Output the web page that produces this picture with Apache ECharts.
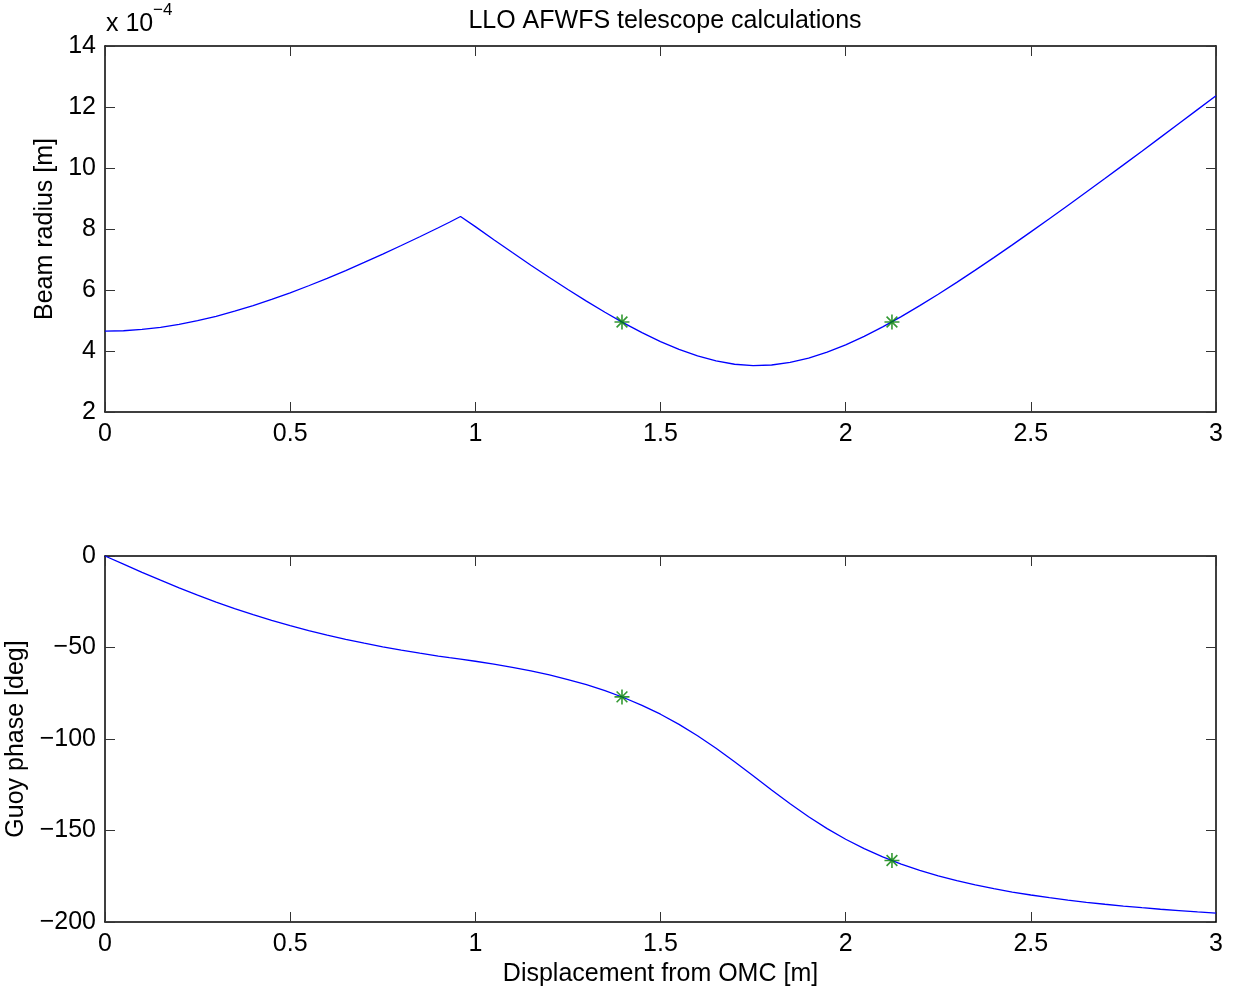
<!DOCTYPE html>
<html>
<head>
<meta charset="utf-8">
<script src="https://cdn.jsdelivr.net/npm/echarts@6/dist/echarts.min.js"></script>
<style>html,body{margin:0;padding:0;background:#fff}#c{width:1236px;height:995px}</style>
</head>
<body>
<div id="c"></div>
<script>
// Displacement from OMC [m]
const displacement = [0,0.05,0.1,0.15,0.2,0.25,0.3,0.35,0.4,0.45,0.5,0.55,0.6,0.65,0.7,0.75,0.8,0.85,0.9,0.93,0.96,1.0,1.05,1.1,1.15,1.2,1.25,1.3,1.35,1.4,1.45,1.5,1.55,1.6,1.65,1.7,1.75,1.8,1.85,1.9,1.95,2.0,2.05,2.1,2.15,2.2,2.25,2.3,2.35,2.4,2.45,2.5,2.55,2.6,2.65,2.7,2.75,2.8,2.85,2.9,2.95,3.0];
// Beam radius in units of 1e-4 m
const beamRadius = [4.65,4.664,4.707,4.777,4.873,4.994,5.138,5.304,5.488,5.690,5.908,6.139,6.383,6.638,6.903,7.177,7.458,7.746,8.041,8.220,8.41,8.077,7.649,7.228,6.814,6.410,6.016,5.635,5.270,4.924,4.603,4.310,4.053,3.838,3.674,3.566,3.521,3.541,3.624,3.766,3.961,4.202,4.482,4.792,5.129,5.487,5.862,6.251,6.651,7.062,7.480,7.905,8.336,8.772,9.212,9.656,10.103,10.552,11.004,11.458,11.914,12.372];
// Gouy phase [deg]
const gouyPhase = [0,-4.48,-8.91,-13.23,-17.41,-21.40,-25.18,-28.75,-32.09,-35.19,-38.09,-40.76,-43.24,-45.53,-47.65,-49.62,-51.43,-53.11,-54.67,-55.56,-56.39,-57.52,-59.09,-60.84,-62.79,-65.00,-67.50,-70.35,-73.60,-77.32,-81.58,-86.45,-91.98,-98.19,-105.05,-112.43,-120.13,-127.89,-135.43,-142.52,-149.00,-154.80,-159.93,-164.42,-168.35,-171.78,-174.78,-177.42,-179.74,-181.79,-183.62,-185.25,-186.72,-188.03,-189.22,-190.31,-191.30,-192.20,-193.04,-193.80,-194.51,-195.16];
// Marked positions
const markerX = [1.396, 2.125];
const markerRadius = [4.95, 4.95];
const markerPhase = [-77.0, -166.4];
// Ticks
const xTicks = [0,0.5,1,1.5,2,2.5,3];
const radiusTicks = [2,4,6,8,10,12,14];
const phaseTicks = [-200,-150,-100,-50,0];

const FONT = '"Liberation Sans", Arial, Helvetica, sans-serif';
const FS = 25;
const BLUE = '#0000ff';
const GREEN = '#008000';
const star = 'path://M0,-6L0,6M-6,0L6,0M-4.3,-4.3L4.3,4.3M-4.3,4.3L4.3,-4.3';

function xAx(grid, pos, labels, name){
  return {
    type:'value', gridIndex:grid, position:pos, min:xTicks[0], max:xTicks[xTicks.length-1], interval:0.5,
    axisLine:{show:true, onZero:false, lineStyle:{color:'#000', width:1.5}},
    axisTick:{show:true, inside:true, length:10, lineStyle:{color:'#333', width:1}},
    axisLabel:{show:labels, color:'#000', fontSize:FS, fontFamily:FONT, margin:10},
    splitLine:{show:false},
    name: name||'', nameLocation:'middle', nameGap:40,
    nameTextStyle:{color:'#000', fontSize:FS, fontFamily:FONT}
  };
}
function yAx(grid, pos, labels, min, max, interval, name, gap, fmt){
  return {
    type:'value', gridIndex:grid, position:pos, min:min, max:max, interval:interval,
    axisLine:{show:true, onZero:false, lineStyle:{color:'#000', width:1.5}},
    axisTick:{show:true, inside:true, length:10, lineStyle:{color:'#333', width:1}},
    axisLabel:{show:labels, color:'#000', fontSize:FS, fontFamily:FONT, margin:9, formatter:fmt},
    splitLine:{show:false},
    name: name||'', nameLocation:'middle', nameGap:gap||0, nameRotate:90,
    nameTextStyle:{color:'#000', fontSize:FS, fontFamily:FONT}
  };
}
const minusFmt = v => String(v).replace('-', '\u2212');

function lineSeries(xi, yi, ys){
  return {type:'line', xAxisIndex:xi, yAxisIndex:yi, data:displacement.map((x,i)=>[x, ys[i]]),
    showSymbol:false, symbol:'none', smooth:false,
    lineStyle:{color:BLUE, width:1.3}, itemStyle:{color:BLUE}, animation:false, z:2};
}
function markerSeries(xi, yi, ys){
  return {type:'scatter', xAxisIndex:xi, yAxisIndex:yi, data:markerX.map((x,i)=>[x, ys[i]]),
    symbol:star, symbolSize:15,
    itemStyle:{color:'none', borderColor:GREEN, borderWidth:1.6}, animation:false, z:3};
}

const chart = echarts.init(document.getElementById('c'), null, {renderer:'canvas'});
chart.setOption({
  backgroundColor:'#fff',
  animation:false,
  title:{text:'LLO AFWFS telescope calculations', left:660, top:4, textAlign:'center',
    textStyle:{color:'#000', fontSize:FS, fontWeight:'normal', fontFamily:FONT}},
  graphic:[
    {type:'text', left:106, top:12, style:{text:'x 10', fill:'#000', font:'25px '+FONT}},
    {type:'text', left:153, top:2, style:{text:'\u22124', fill:'#000', font:'17px '+FONT}}
  ],
  grid:[
    {left:105, top:46, width:1111, height:366, containLabel:false, outerBoundsMode:'none'},
    {left:105, top:556, width:1111, height:366, containLabel:false, outerBoundsMode:'none'}
  ],
  xAxis:[
    xAx(0,'bottom',true),
    xAx(0,'top',false),
    xAx(1,'bottom',true,'Displacement from OMC [m]'),
    xAx(1,'top',false)
  ],
  yAxis:[
    yAx(0,'left',true,radiusTicks[0],radiusTicks[radiusTicks.length-1],2,'Beam radius [m]',46),
    yAx(0,'right',false,radiusTicks[0],radiusTicks[radiusTicks.length-1],2),
    yAx(1,'left',true,phaseTicks[0],phaseTicks[phaseTicks.length-1],50,'Guoy phase [deg]',74,minusFmt),
    yAx(1,'right',false,phaseTicks[0],phaseTicks[phaseTicks.length-1],50)
  ],
  series:[
    lineSeries(0,0,beamRadius),
    markerSeries(0,0,markerRadius),
    lineSeries(2,2,gouyPhase),
    markerSeries(2,2,markerPhase)
  ]
});
</script>
</body>
</html>
